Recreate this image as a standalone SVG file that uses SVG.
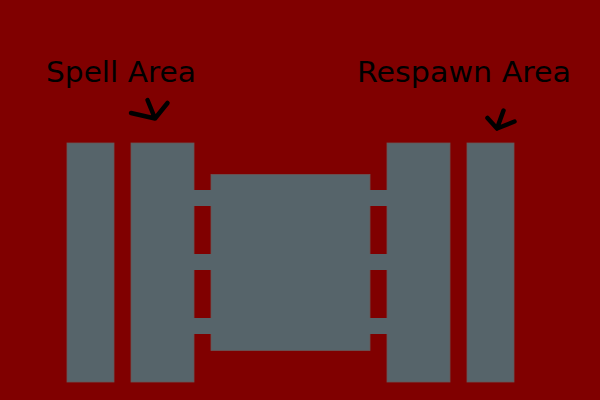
<svg xmlns="http://www.w3.org/2000/svg" width="600" height="400" viewBox="0 0 600 400">
<style>
.blk{fill:#56646a;stroke:#6a5656;stroke-width:0.8}
.bar{fill:#56646a}
.lbl{font-family:"DejaVu Sans",sans-serif;font-size:29px;fill:#000}
.mark{fill:none;stroke:#000;stroke-width:4.5;stroke-linecap:round;stroke-linejoin:round}
</style>
<rect width="600" height="400" fill="#800000"/>
<g id="spell-outer"><rect class="blk" x="67" y="143" width="47" height="239"/></g>
<g id="spell-inner"><rect class="blk" x="131" y="143" width="63" height="239"/></g>
<g id="center"><rect class="blk" x="211" y="174.5" width="159" height="176"/></g>
<g id="respawn-inner"><rect class="blk" x="387" y="143" width="63" height="239"/></g>
<g id="respawn-outer"><rect class="blk" x="467" y="143" width="47" height="239"/></g>
<g id="connectors">
<rect class="bar" x="193" y="190" width="19" height="16"/>
<rect class="bar" x="193" y="254" width="19" height="16"/>
<rect class="bar" x="193" y="318" width="19" height="16"/>
<rect class="bar" x="369" y="190" width="19" height="16"/>
<rect class="bar" x="369" y="254" width="19" height="16"/>
<rect class="bar" x="369" y="318" width="19" height="16"/>
</g>
<g id="labels">
<text class="lbl" x="46" y="82" textLength="150" lengthAdjust="spacingAndGlyphs">Spell Area</text>
<text class="lbl" x="357" y="82" textLength="214" lengthAdjust="spacingAndGlyphs">Respawn Area</text>
<path class="mark" d="M131,113 L155,118.5 M147.5,100 L155,118.5 L167.5,103"/>
<path class="mark" d="M487.5,118 L497,128.5 L503.5,110.5 M497,128.5 L514.5,121.5"/>
</g>
</svg>
